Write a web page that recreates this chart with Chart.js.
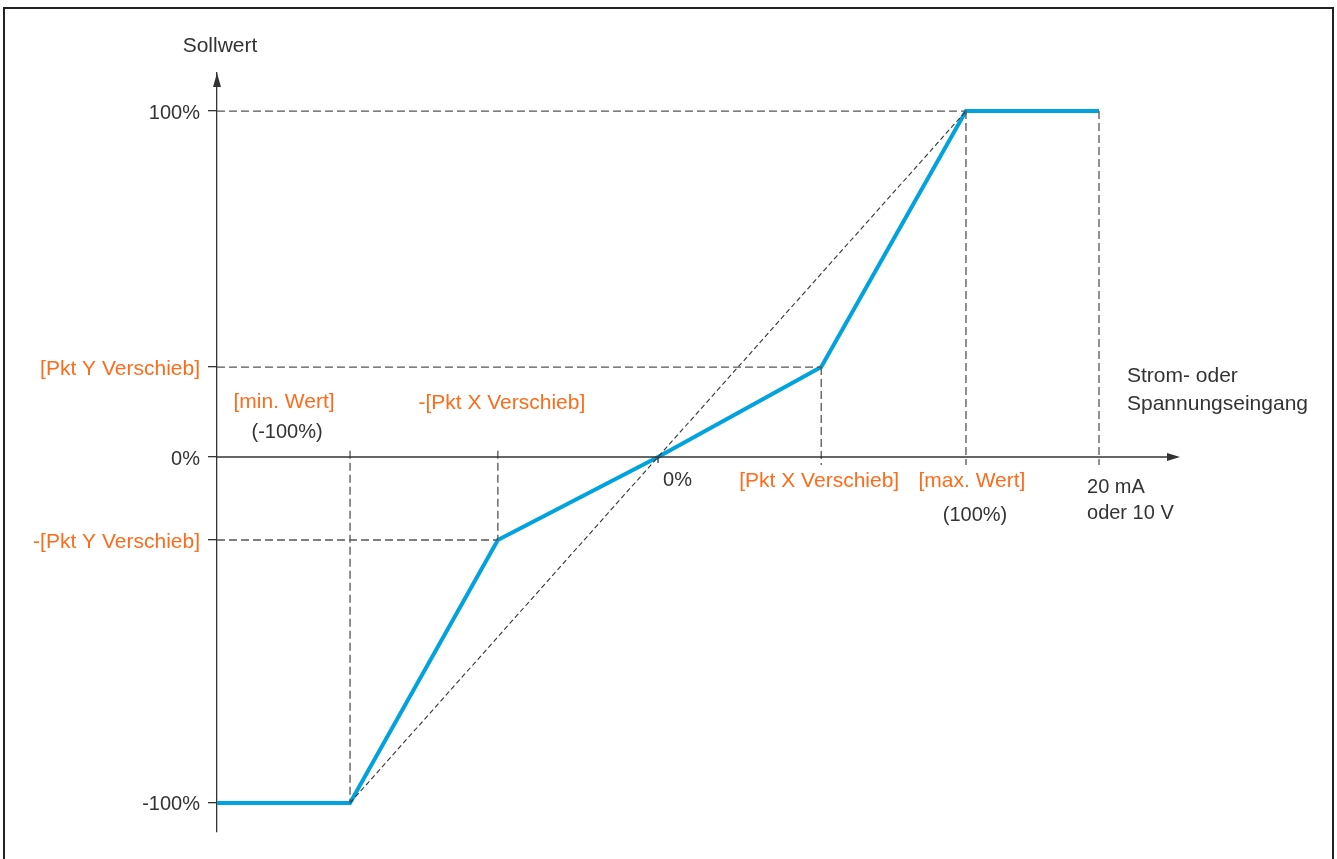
<!DOCTYPE html>
<html>
<head>
<meta charset="utf-8">
<script src="https://cdn.jsdelivr.net/npm/chart.js@4"></script>
<style>
  html, body { margin: 0; padding: 0; background: #fff; }
  #wrap { position: relative; width: 1337px; height: 859px; }
</style>
</head>
<body>
<div id="wrap"><canvas id="chart"></canvas></div>
<script>
// input (x, % of range) vs. Sollwert (y, %)
const inputX = [-143.2, -100, -52, 0, 53, 100, 143.2];
const sollwert = [-100, -100, -24, 0, 26, 100, 100];

// dashed reference line 1:1
const diagX = [-100, 100];
const diagY = [-100, 100];

// dashed guide lines: [x1, y1, x2, y2]
const guides = [
  [-143.2, 100, 100, 100],
  [-143.2, 26, 53, 26],
  [-143.2, -24, -52, -24],
  [-100, 1.8, -100, -100],
  [-52, 1.8, -52, -24],
  [53, 26, 53, -2.3],
  [100, 100, 100, -2.3],
  [143.2, 100, 143.2, -2.3]
];

const yTickValues = [100, 26, 0, -24, -100];
const yTickLabels = ['100%', '[Pkt Y Verschieb]', '0%', '-[Pkt Y Verschieb]', '-100%'];
const yTickOrange = [false, true, false, true, false];

// x labels: value, text
const xLabelValues = [-100, -100, -52, 0, 53, 100, 100, 143.2, 143.2];
const xLabelTexts = ['[min. Wert]', '(-100%)', '-[Pkt X Verschieb]', '0%', '[Pkt X Verschieb]', '[max. Wert]', '(100%)', '20 mA', 'oder 10 V'];

const X_MIN = -143.2, X_MAX = 169.5;
const Y_MIN = -108.4, Y_MAX = 111;

const ORANGE = '#ff6b1a';
const BLUE = '#00a3dd';
const DARK = '#333333';
const FONT = '"Liberation Sans", Arial, Helvetica, sans-serif';

function isOrangeTick(c) {
  return !!(c && c.tick && yTickOrange[yTickValues.indexOf(c.tick.value)]);
}

const guideSets = guides.map(g => ({
  data: [{ x: g[0], y: g[1] }, { x: g[2], y: g[3] }],
  showLine: true,
  borderColor: '#555',
  borderWidth: 1.3,
  borderDash: [8, 4],
  pointRadius: 0,
  clip: false
}));

const labelPlugin = {
  id: 'labels',
  beforeDraw(chart) {
    const ctx = chart.ctx;
    ctx.save();
    // frame
    ctx.strokeStyle = '#222';
    ctx.lineWidth = 2;
    ctx.beginPath();
    ctx.moveTo(4, 880);
    ctx.lineTo(4, 8);
    ctx.lineTo(1333, 8);
    ctx.lineTo(1333, 880);
    ctx.stroke();
    ctx.restore();
  },
  afterDraw(chart) {
    const ctx = chart.ctx;
    const xs = chart.scales.x, ys = chart.scales.y;
    const area = chart.chartArea;
    const y0 = ys.getPixelForValue(0);
    ctx.save();

    // x axis + arrow
    ctx.strokeStyle = DARK;
    ctx.fillStyle = DARK;
    ctx.lineWidth = 1.3;
    ctx.beginPath();
    ctx.moveTo(area.left, y0);
    ctx.lineTo(area.right - 10, y0);
    ctx.stroke();
    ctx.beginPath();
    ctx.moveTo(area.right, y0);
    ctx.lineTo(area.right - 13, y0 - 4);
    ctx.lineTo(area.right - 13, y0 + 4);
    ctx.closePath();
    ctx.fill();
    // tick at 0%
    const xz = xs.getPixelForValue(0);
    ctx.beginPath();
    ctx.moveTo(xz, y0);
    ctx.lineTo(xz, y0 + 6);
    ctx.stroke();

    // y axis arrow
    ctx.beginPath();
    ctx.moveTo(area.left, area.top);
    ctx.lineTo(area.left - 4, area.top + 14);
    ctx.lineTo(area.left + 4, area.top + 14);
    ctx.closePath();
    ctx.fill();

    ctx.font = '21px ' + FONT;
    ctx.textBaseline = 'middle';

    // axis titles
    ctx.fillStyle = DARK;
    ctx.textAlign = 'center';
    ctx.fillText('Sollwert', area.left + 3, 46);
    ctx.textAlign = 'left';
    ctx.fillText('Strom- oder', 1127, 376);
    ctx.fillText('Spannungseingang', 1127, 404);

    // x labels (offsets from their data position)
    const offs = [
      [-66, -55, 'center', true],
      [-63, -25, 'center', false],
      [4, -54, 'center', true],
      [5, 23, 'left', false],
      [-2, 24, 'center', true],
      [6, 24, 'center', true],
      [9, 58, 'center', false],
      [-12, 30, 'left', false],
      [-12, 56, 'left', false]
    ];
    xLabelTexts.forEach((t, i) => {
      const o = offs[i];
      ctx.fillStyle = o[3] ? ORANGE : DARK;
      ctx.textAlign = o[2];
      ctx.font = (o[3] ? '21px ' : '20px ') + FONT;
      ctx.fillText(t, xs.getPixelForValue(xLabelValues[i]) + o[0], y0 + o[1]);
    });
    ctx.restore();
  }
};

new Chart(document.getElementById('chart'), {
  type: 'scatter',
  data: {
    datasets: [
      ...guideSets,
      {
        data: diagX.map((x, i) => ({ x, y: diagY[i] })),
        showLine: true,
        borderColor: '#333',
        borderWidth: 1.1,
        borderDash: [5, 3],
        pointRadius: 0
      },
      {
        data: inputX.map((x, i) => ({ x, y: sollwert[i] })),
        showLine: true,
        borderColor: BLUE,
        borderWidth: 4,
        pointRadius: 0,
        borderJoinStyle: 'miter',
        clip: false
      }
    ]
  },
  options: {
    responsive: true,
    maintainAspectRatio: false,
    animation: false,
    layout: { padding: { left: 0, right: 157, top: 73, bottom: 27 } },
    plugins: { legend: { display: false }, tooltip: { enabled: false } },
    scales: {
      x: { type: 'linear', display: false, min: X_MIN, max: X_MAX },
      y: {
        type: 'linear',
        min: Y_MIN,
        max: Y_MAX,
        afterFit: s => { s.width = 217; },
        afterBuildTicks: s => { s.ticks = yTickValues.map(v => ({ value: v })); },
        border: { display: true, color: DARK, width: 1.3 },
        grid: { drawOnChartArea: false, tickLength: 9, color: DARK, lineWidth: 1.3 },
        ticks: {
          autoSkip: false,
          padding: 8,
          labelOffset: 2,
          font: c => ({ size: isOrangeTick(c) ? 21 : 20, family: FONT }),
          color: c => isOrangeTick(c) ? ORANGE : DARK,
          callback: v => yTickLabels[yTickValues.indexOf(v)]
        }
      }
    }
  },
  plugins: [labelPlugin]
});
</script>
</body>
</html>
